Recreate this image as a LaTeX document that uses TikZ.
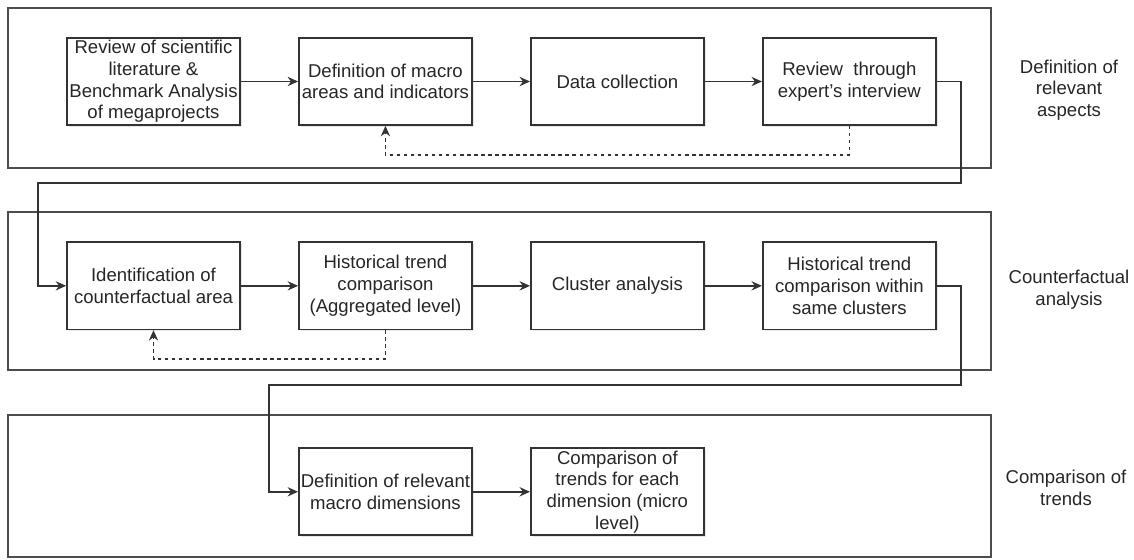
\documentclass[tikz,border=0pt]{standalone}
\usepackage{fontspec}
\setmainfont{Liberation Sans}
\usetikzlibrary{positioning,arrows.meta,shadows}
\tikzset{
  stepbox/.style={draw=black!80, line width=1.2pt, fill=white,
    minimum width=4.325cm, minimum height=2.175cm, inner sep=1pt,
    align=center, font=\fontsize{13.2}{15.4}\selectfont, text=black!85,
    drop shadow={opacity=0.18, shadow xshift=1.5pt, shadow yshift=-1.5pt}},
  flow/.style={draw=black!80, line width=1.2pt, -{Stealth[length=2.6mm,width=2.3mm]}},
  back/.style={flow, dash pattern=on 2.5pt off 2.5pt},
  panel/.style={draw=black!70, line width=1.2pt},
  phase/.style={align=center, font=\fontsize{13.2}{15.4}\selectfont, text=black!85}
}

\begin{document}
\begin{tikzpicture}[x=0.025cm, y=-0.025cm, node distance=1.43cm]
    \useasboundingbox (0,0) rectangle (1134,560);
    % phase frames
    \draw[panel] (8,8) rectangle (991,168);
    \draw[panel] (8,212) rectangle (991,370);
    \draw[panel] (8,415) rectangle (991,557);
    \node[phase] (aspects) at (1069,90) {Definition of\\relevant\\aspects};
    \node[phase] (counter) at (1069,290) {Counterfactual\\analysis};
    \node[phase] (trends) at (1066,488) {Comparison of\\trends};

    % first row
    \node[stepbox] (lit) at (153.5,81.5) {Review of scientific\\literature \&\\Benchmark Analysis\\of megaprojects};
    \node[stepbox, right=of lit] (macro) {Definition of macro\\areas and indicators};
    \node[stepbox, right=of macro] (data) {Data collection};
    \node[stepbox, right=of data] (expert) {Review~ through\\expert's interview};

    % second row
    \node[stepbox, below=2.89cm of lit] (ident) {Identification of\\counterfactual area};
    \node[stepbox, right=of ident] (aggr) {Historical trend\\comparison\\(Aggregated level)};
    \node[stepbox, right=of aggr] (cluster) {Cluster analysis};
    \node[stepbox, right=of cluster] (within) {Historical trend\\comparison within\\same clusters};

    % third row
    \node[stepbox, below=2.93cm of aggr] (dims) {Definition of relevant\\macro dimensions};
    \node[stepbox, right=of dims] (micro) {Comparison of\\trends for each\\dimension (micro\\level)};

    \draw[flow] (lit) -- (macro);
    \draw[flow] (macro) -- (data);
    \draw[flow] (data) -- (expert);
    \draw[back] (expert.south) -- ++(0,29) -| (macro.south);

    \coordinate (down1) at (38,183);
    \draw[flow] (expert.east) -| (961,183) -- (down1) |- (ident.west);

    \draw[flow] (ident) -- (aggr);
    \draw[flow] (aggr) -- (cluster);
    \draw[flow] (cluster) -- (within);
    \draw[back] (aggr.south) -- ++(0,29) -| (ident.south);

    \coordinate (down2) at (269,385);
    \draw[flow] (within.east) -| (961,385) -- (down2) |- (dims.west);

    \draw[flow] (dims) -- (micro);
\end{tikzpicture}
\end{document}
